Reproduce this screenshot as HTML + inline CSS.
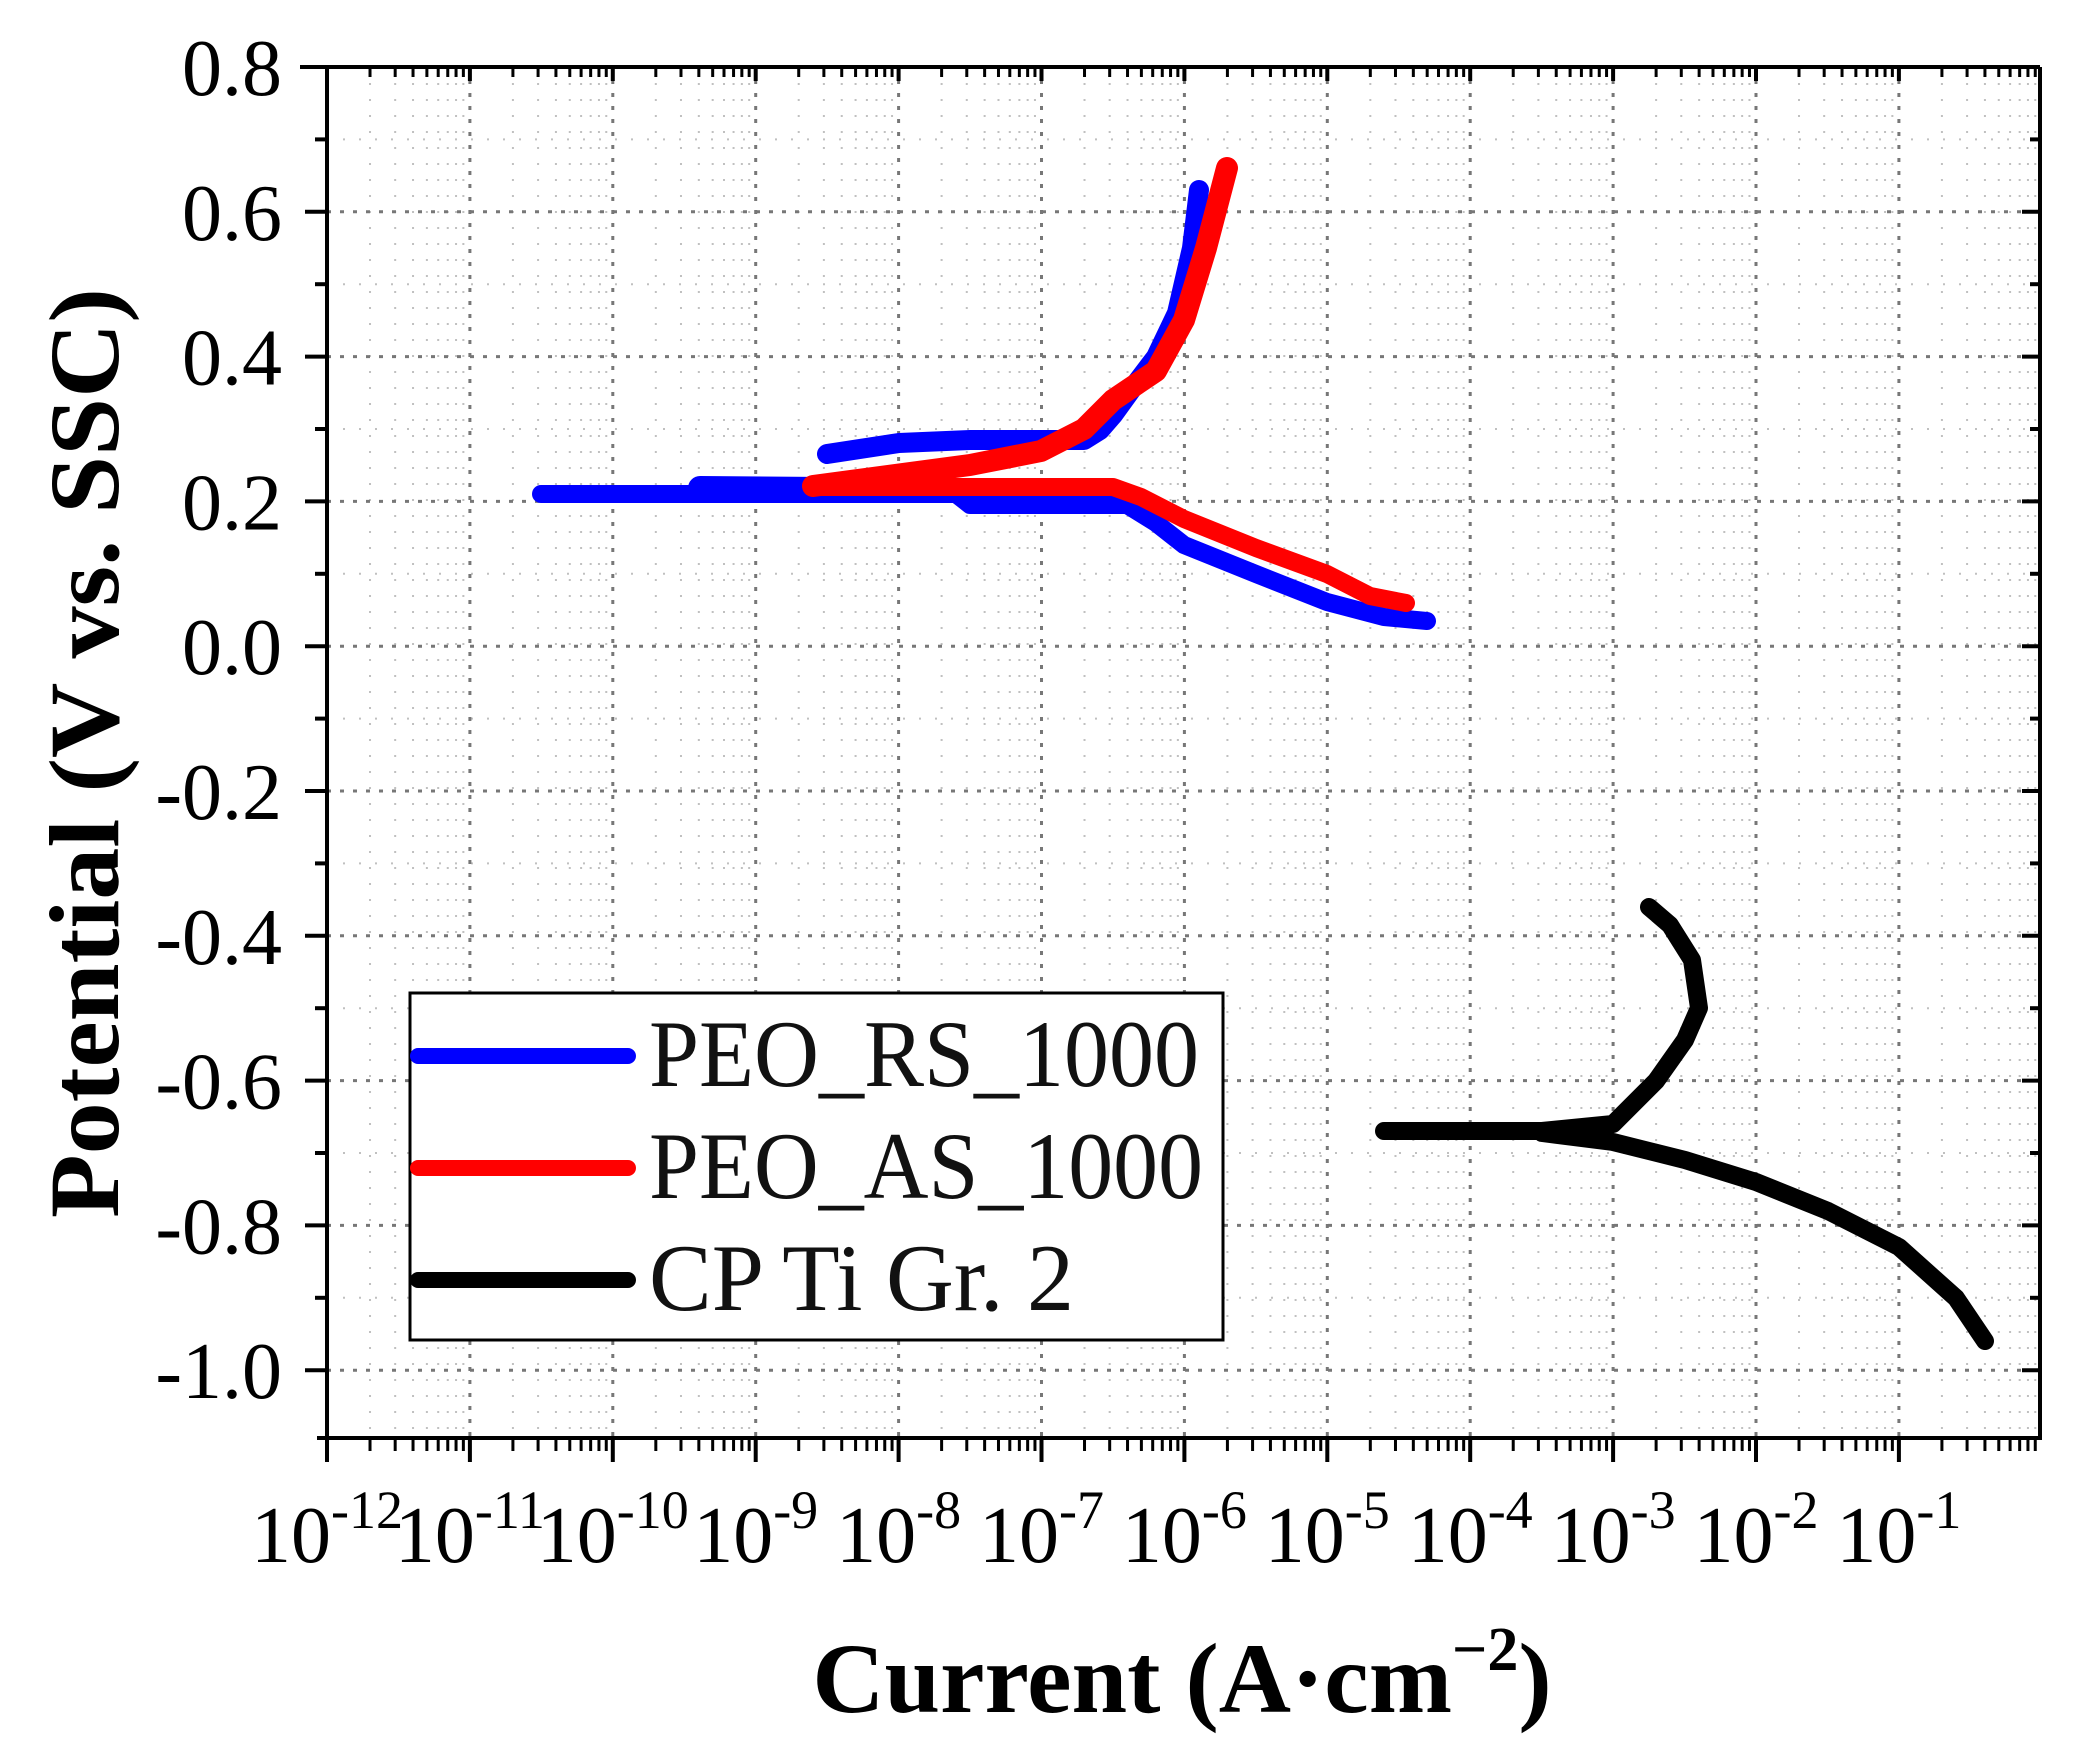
<!DOCTYPE html>
<html><head><meta charset="utf-8"><style>html,body{margin:0;padding:0;background:#fff}svg{display:block}</style></head>
<body>
<svg id="s" width="2082" height="1755" viewBox="0 0 2082 1755" xmlns="http://www.w3.org/2000/svg" font-family="'Liberation Serif', serif">
<rect width="2082" height="1755" fill="#fff"/>
<g id="grid"></g>
<g id="axes" stroke="#000" fill="none"></g>
<g id="data" fill="none" stroke-linecap="round" stroke-linejoin="round" stroke-width="18">
<polyline stroke="#0000ff" points="541,494 956,494 970,505 1127,505 1156,523 1184,545 1256,574 1327,602 1384,617 1427,621"/>
<polyline stroke="#0000ff" stroke-width="24" points="700,488 956,490 1100,492"/>
<polyline stroke="#0000ff" stroke-width="20" points="827,454 899,443 970,440 1084,440 1100,430 1113,415 1134,386 1156,357 1177,313 1192,248 1199,190"/>
<polyline stroke="#ff0000" points="813,487 1113,487 1141,497 1184,519 1256,548 1327,574 1370,596 1406,603"/>
<polyline stroke="#ff0000" stroke-width="22" points="813,486 970,465 1041,451 1084,429 1113,400 1156,371 1184,320 1206,248 1227,168"/>
<polyline stroke="#000" points="1384,1131 1542,1131 1613,1124 1656,1081 1685,1040 1699,1008 1692,960 1670,925 1649,907"/>
<polyline stroke="#000" points="1542,1133 1613,1142 1685,1160 1756,1182 1828,1211 1899,1247 1956,1298 1985,1341"/>
</g>
<g id="labels" font-size="80" fill="#000"></g>
<rect x="410" y="993" width="813" height="347" fill="#fff" stroke="#000" stroke-width="3"/>
<g stroke-width="16" stroke-linecap="round">
<line x1="418" y1="1056" x2="628" y2="1056" stroke="#0000ff"/>
<line x1="418" y1="1168" x2="628" y2="1168" stroke="#ff0000"/>
<line x1="418" y1="1280" x2="628" y2="1280" stroke="#000"/>
</g>
<g font-size="95" fill="#111">
<text x="649" y="1086" textLength="550" lengthAdjust="spacingAndGlyphs">PEO_RS_1000</text>
<text x="649" y="1198" textLength="554" lengthAdjust="spacingAndGlyphs">PEO_AS_1000</text>
<text x="649" y="1310" textLength="425" lengthAdjust="spacingAndGlyphs">CP Ti Gr. 2</text>
</g>
<text x="1182" y="1712" font-size="100" font-weight="bold" text-anchor="middle">Current (A·cm<tspan font-size="62" dy="-42">−2</tspan><tspan dy="42">)</tspan></text>
<text transform="translate(118,753) rotate(-90)" font-size="100" font-weight="bold" text-anchor="middle" textLength="930" lengthAdjust="spacingAndGlyphs">Potential (V vs. SSC)</text>
</svg>
<script>
var NS="http://www.w3.org/2000/svg";
function X(l){return 327+(l+12)*142.9;}
function Y(v){return 67+(0.8-v)*724;}
function el(p,t,a,txt){var e=document.createElementNS(NS,t);for(var k in a)e.setAttribute(k,a[k]);if(txt!==undefined)e.textContent=txt;p.appendChild(e);return e;}
var g=document.getElementById('grid'),ax=document.getElementById('axes'),lb=document.getElementById('labels');
var L=327,R=2040,T=67,B=1438;
for(var d=-12;d<0;d++){for(var m=2;m<10;m++){var x=X(d+Math.log10(m));if(x<R)el(g,'line',{x1:x,y1:T,x2:x,y2:B,stroke:'#c0c0c0','stroke-width':2,'stroke-dasharray':'2 14'});}}
for(var i=0;i<19;i++){var v=0.7-i*0.2;var y=Y(v);if(y>T&&y<B)el(g,'line',{x1:L,y1:y,x2:R,y2:y,stroke:'#c0c0c0','stroke-width':2,'stroke-dasharray':'2 14'});}
for(var d=-11;d<0;d++){var x=X(d);el(g,'line',{x1:x,y1:T,x2:x,y2:B,stroke:'#777','stroke-width':3,'stroke-dasharray':'4 9'});}
for(var i=1;i<=9;i++){var v=0.8-i*0.2;var y=Y(v);el(g,'line',{x1:L,y1:y,x2:R,y2:y,stroke:'#777','stroke-width':3,'stroke-dasharray':'4 9'});}
el(ax,'line',{x1:300,y1:T,x2:R,y2:T,'stroke-width':4});
el(ax,'line',{x1:L,y1:T,x2:L,y2:B+5,'stroke-width':4});
el(ax,'line',{x1:R,y1:T,x2:R,y2:B,'stroke-width':4});
el(ax,'line',{x1:L-10,y1:B,x2:R+2,y2:B,'stroke-width':4});
for(var d=-12;d<=0;d++){var x=X(d);if(x<=R+1){el(ax,'line',{x1:x,y1:B,x2:x,y2:B+24,'stroke-width':4});el(ax,'line',{x1:x,y1:T,x2:x,y2:T+14,'stroke-width':4});}
 if(d<0)for(var m=2;m<10;m++){var xm=X(d+Math.log10(m));if(xm<R){el(ax,'line',{x1:xm,y1:B,x2:xm,y2:B+13,'stroke-width':3});el(ax,'line',{x1:xm,y1:T,x2:xm,y2:T+10,'stroke-width':3});}}
 if(d<0){var t=el(lb,'text',{x:x,y:1562,'text-anchor':'middle'});el(t,'tspan',{},'10');el(t,'tspan',{'font-size':54,dy:-34},'-'+(-d));}
}
for(var i=0;i<=19;i++){var v=0.8-i*0.1;var y=Y(v);if(y>B+1)break;var maj=(i%2==0);
 el(ax,'line',{x1:L-(maj?22:12),y1:y,x2:L,y2:y,'stroke-width':4});
 el(ax,'line',{x1:R-(maj?18:10),y1:y,x2:R,y2:y,'stroke-width':4});
 if(maj){var s=v.toFixed(1);if(Math.abs(v)<1e-9)s='0.0';el(lb,'text',{x:282,y:y+28,'text-anchor':'end'},s);}
}
</script>
</body></html>
